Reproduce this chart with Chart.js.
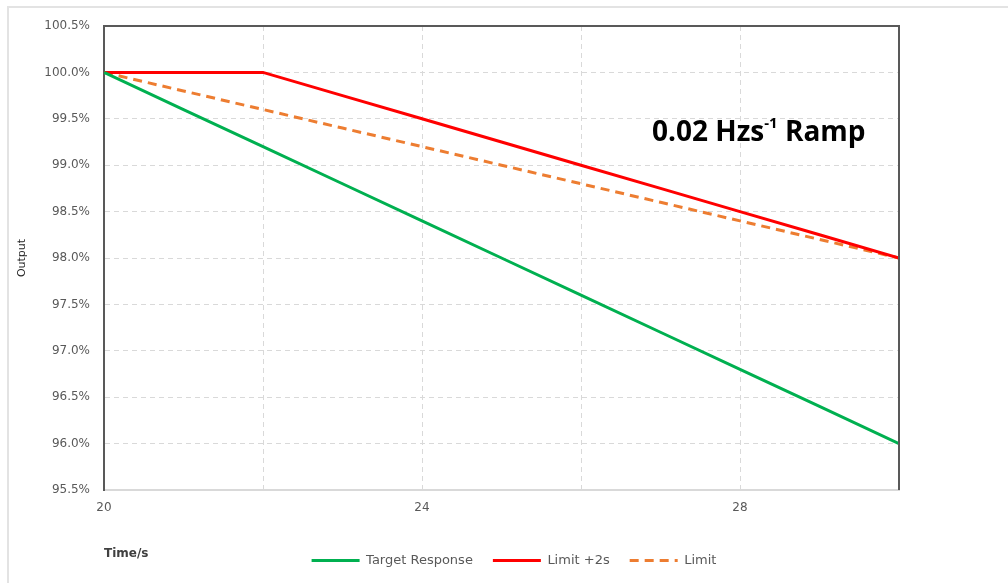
<!DOCTYPE html>
<html>
<head>
<meta charset="utf-8">
<script src="https://cdn.jsdelivr.net/npm/chart.js@4/dist/chart.umd.min.js"></script>
<style>
  html, body { margin: 0; padding: 0; background: #fff; }
  #wrap { width: 1008px; height: 583px; }
</style>
</head>
<body>
<div id="wrap"><canvas id="chart" width="1008" height="583"></canvas></div>
<script>
// 時間 (s)
const times = [20, 21, 22, 23, 24, 25, 26, 27, 28, 29, 30];
// 出力 (%)
const targetResponse = [100, 99.6, 99.2, 98.8, 98.4, 98.0, 97.6, 97.2, 96.8, 96.4, 96.0];
const limitPlus2s = [100, 100, 100, 99.75, 99.5, 99.25, 99.0, 98.75, 98.5, 98.25, 98.0];
const limit = [100, 99.8, 99.6, 99.4, 99.2, 99.0, 98.8, 98.6, 98.4, 98.2, 98.0];
const xTickLabels = [20, 24, 28];

function toPoints(values) {
    return times.map((t, i) => ({ x: t, y: values[i] }));
}

const tickFont = { family: "DejaVu Sans", size: 12 };

// 枠線と注釈テキスト
const framePlugin = {
    id: "frame",
    beforeDraw(chart) {
        const ctx = chart.ctx;
        ctx.save();
        ctx.fillStyle = "#fff";
        ctx.fillRect(0, 0, chart.width, chart.height);
        ctx.strokeStyle = "#e3e3e3";
        ctx.lineWidth = 2;
        ctx.beginPath();
        ctx.moveTo(8, chart.height);
        ctx.lineTo(8, 7);
        ctx.lineTo(chart.width, 7);
        ctx.stroke();
        ctx.restore();
    },
    afterDatasetsDraw(chart) {
        const { ctx, chartArea } = chart;
        ctx.save();
        ctx.strokeStyle = "#595959";
        ctx.lineWidth = 2;
        ctx.beginPath();
        ctx.moveTo(chartArea.left, chartArea.top);
        ctx.lineTo(chartArea.right, chartArea.top);
        ctx.lineTo(chartArea.right, chartArea.bottom);
        ctx.stroke();

        // 0.02 Hzs⁻¹ Ramp
        let x = 652, y = 133;
        ctx.fillStyle = "#000";
        ctx.textBaseline = "middle";
        ctx.font = "bold 28px 'Open Sans'";
        ctx.fillText("0.02 Hzs", x, y);
        x += ctx.measureText("0.02 Hzs").width;
        ctx.font = "bold 15px 'Open Sans'";
        ctx.fillText("-1", x, y - 9);
        x += ctx.measureText("-1").width;
        ctx.font = "bold 28px 'Open Sans'";
        ctx.fillText(" Ramp", x, y);
        ctx.restore();
    }
};

// 凡例に破線を反映させる
function legendLabels(chart) {
    const items = Chart.defaults.plugins.legend.labels.generateLabels(chart);
    items.forEach((item) => {
        const ds = chart.data.datasets[item.datasetIndex];
        item.lineDash = ds.borderDash || [];
        item.lineWidth = ds.borderWidth;
    });
    return items;
}

new Chart(document.getElementById("chart"), {
    type: "scatter",
    data: {
        datasets: [
            {
                label: "Target Response",
                data: toPoints(targetResponse),
                showLine: true,
                borderColor: "#00b050",
                backgroundColor: "#00b050",
                borderWidth: 3,
                pointRadius: 0
            },
            {
                label: "Limit +2s",
                data: toPoints(limitPlus2s),
                showLine: true,
                borderColor: "#ff0000",
                backgroundColor: "#ff0000",
                borderWidth: 3,
                pointRadius: 0
            },
            {
                label: "Limit",
                data: toPoints(limit),
                showLine: true,
                borderColor: "#ed7d31",
                backgroundColor: "#ed7d31",
                borderWidth: 3,
                borderDash: [9, 6],
                pointRadius: 0
            }
        ]
    },
    options: {
        responsive: false,
        animation: false,
        layout: { padding: { left: 20, top: 26, right: 0, bottom: 6 } },
        plugins: {
            tooltip: { enabled: false },
            legend: {
                position: "bottom",
                labels: {
                    usePointStyle: true,
                    pointStyle: "line",
                    pointStyleWidth: 48,
                    padding: 20,
                    color: "#595959",
                    font: { family: "DejaVu Sans", size: 13 },
                    generateLabels: legendLabels
                }
            }
        },
        scales: {
            x: {
                type: "linear",
                min: 20,
                max: 30,
                afterFit: (s) => { s.height = 44; },
                grid: {
                    color: "#d9d9d9",
                    drawTicks: false
                },
                border: { color: "#d9d9d9", width: 2, dash: [5, 4] },
                ticks: {
                    stepSize: 2,
                    padding: 11,
                    color: "#595959",
                    font: tickFont,
                    callback: (v) => xTickLabels.includes(v) ? String(v) : ""
                },
                title: {
                    display: true,
                    text: "Time/s",
                    align: "start",
                    color: "#404040",
                    font: { family: "DejaVu Sans", size: 12, weight: "bold" },
                    padding: { top: 0, bottom: -27 }
                }
            },
            y: {
                min: 95.5,
                max: 100.5,
                afterFit: (s) => { s.width = 84; },
                grid: {
                    color: "#d9d9d9",
                    drawTicks: false
                },
                border: { color: "#595959", width: 2, dash: [5, 4] },
                ticks: {
                    stepSize: 0.5,
                    padding: 14,
                    color: "#595959",
                    font: tickFont,
                    callback: (v) => v.toFixed(1) + "%"
                },
                title: {
                    display: true,
                    text: "Output",
                    color: "#262626",
                    font: { family: "DejaVu Sans", size: 11 },
                    padding: { top: -4, bottom: 0 }
                }
            },
            y2: {
                position: "right",
                display: true,
                afterFit: (s) => { s.width = 109; },
                grid: { display: false },
                border: { display: false },
                ticks: { display: false }
            }
        }
    },
    plugins: [framePlugin]
});
</script>
</body>
</html>
